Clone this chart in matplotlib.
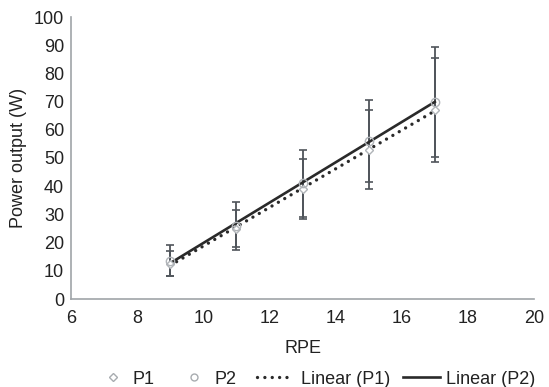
import matplotlib
matplotlib.use("Agg")
import matplotlib.pyplot as plt
import numpy as np
from matplotlib.lines import Line2D

plt.rcParams['font.family'] = ['Liberation Sans', 'DejaVu Sans']

rpe = [9, 11, 13, 15, 17]
p1_mean = [12.5, 25.0, 39.0, 53.0, 67.0]
p1_err = [4.5, 6.5, 10.5, 14.0, 18.5]
p2_mean = [13.5, 26.0, 41.0, 56.0, 70.0]
p2_err = [5.5, 8.5, 12.0, 14.5, 19.5]

x_ticks = [6, 8, 10, 12, 14, 16, 18, 20]
y_ticks = [0, 10, 20, 30, 40, 50, 60, 70, 80, 90, 100]
legend_labels = ['P1', 'P2', 'Linear (P1)', 'Linear (P2)']

W, H = 549, 387
FS = 13
TXT = '#222222'

fig = plt.figure(figsize=(W / 100, H / 100), dpi=100)
ax = fig.add_axes([71 / W, (H - 299) / H, (534 - 71) / W, (299 - 17) / H])

x = np.array(rpe, dtype=float)
c1 = np.polyfit(x, p1_mean, 1)
c2 = np.polyfit(x, p2_mean, 1)

ax.errorbar(rpe, p1_mean, yerr=p1_err, fmt='none', ecolor='#50555b', elinewidth=1.3,
            capsize=3, capthick=1.2, zorder=2)
ax.errorbar(rpe, p2_mean, yerr=p2_err, fmt='none', ecolor='#50555b', elinewidth=1.3,
            capsize=3, capthick=1.2, zorder=2)

dotted = (0, (0.01, 2.2))
ax.plot(x, np.polyval(c1, x), linestyle=dotted, color='#2a2a2a', lw=2.4,
        dash_capstyle='round', zorder=3)
ax.plot(x, np.polyval(c2, x), linestyle='-', color='#2a2a2a', lw=1.9, zorder=3)

ax.plot(rpe, p1_mean, linestyle='none', marker='D', markersize=4.5, mfc='white',
        mec='#b0b4b8', mew=1.0, zorder=4)
ax.plot(rpe, p2_mean, linestyle='none', marker='o', markersize=6, mfc='none',
        mec='#b0b4b8', mew=1.0, zorder=4)

ax.set_xlim(6, 20)
ax.set_ylim(0, 100)
ax.set_xticks(x_ticks)
ax.set_yticks(y_ticks)
ax.tick_params(axis='x', length=0, labelsize=FS, colors=TXT, pad=8)
ax.tick_params(axis='y', length=0, labelsize=FS, colors=TXT, pad=5)
for s in ['top', 'right']:
    ax.spines[s].set_visible(False)
for s in ['left', 'bottom']:
    ax.spines[s].set_color('#a0a4a8')
    ax.spines[s].set_linewidth(1.2)

ax.set_xlabel('RPE', fontsize=FS, color=TXT, labelpad=9)
ax.set_ylabel('Power output (W)', fontsize=FS, color=TXT, labelpad=5)

# Legend drawn manually at the reference positions (figure pixel coords)
ly = (H - 377) / H
def fx(px):
    return px / W

fig.add_artist(Line2D([fx(113)], [ly], transform=fig.transFigure, linestyle='none',
                      marker='D', markersize=4, mfc='white', mec='#a8acb0', mew=1.0))
fig.add_artist(Line2D([fx(194)], [ly], transform=fig.transFigure, linestyle='none',
                      marker='o', markersize=5, mfc='none', mec='#a8acb0', mew=1.0))
fig.add_artist(Line2D([fx(257), fx(292)], [ly, ly], transform=fig.transFigure,
                      linestyle=dotted, color='#2a2a2a', lw=2.4, dash_capstyle='round'))
fig.add_artist(Line2D([fx(403), fx(440)], [ly, ly], transform=fig.transFigure,
                      linestyle='-', color='#2a2a2a', lw=1.9))
for lbl, px in zip(legend_labels, [132, 215, 301, 446]):
    fig.text(fx(px), ly, lbl, ha='left', va='center_baseline', fontsize=FS, color=TXT)

fig.savefig('out.png', dpi=100)
